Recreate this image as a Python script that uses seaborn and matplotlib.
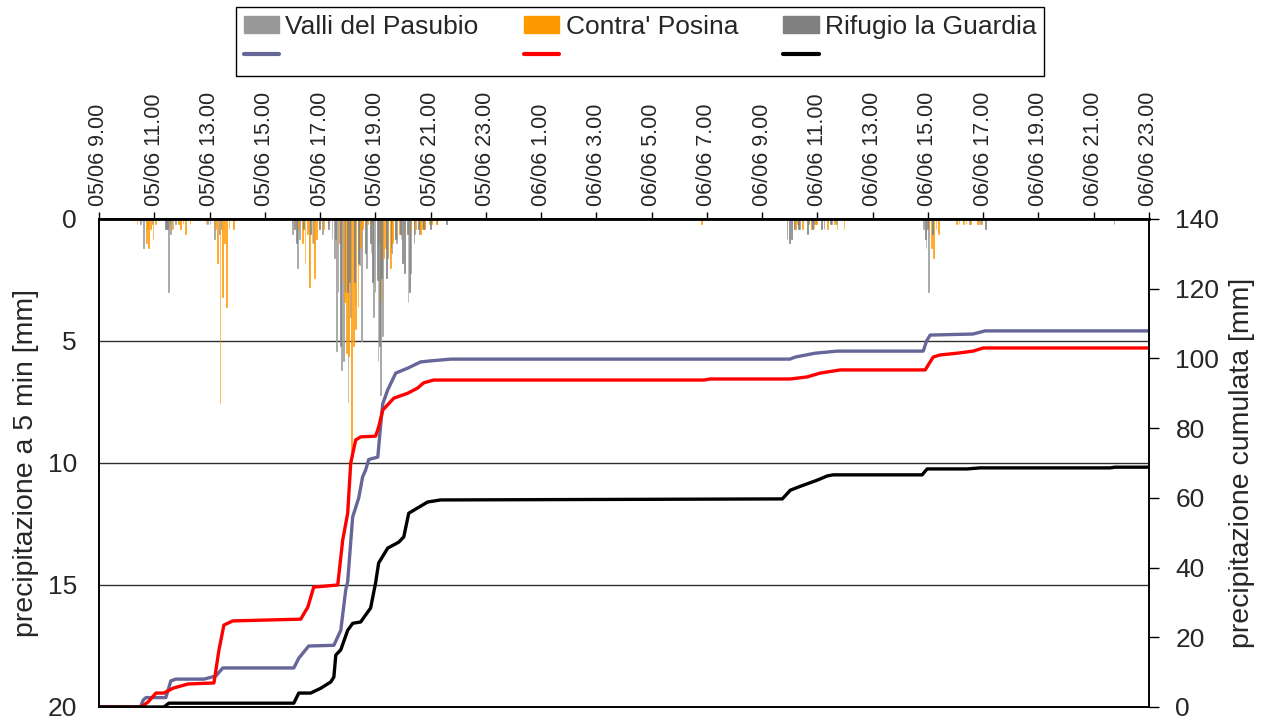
import numpy as np
import pandas as pd
import seaborn as sns
import matplotlib.pyplot as plt
from matplotlib.patches import Patch
from matplotlib.lines import Line2D

sns.set_style("white")
plt.rcParams["font.family"] = ["Liberation Sans", "DejaVu Sans"]

# ---------------------------------------------------------------------------
# Data: 5-minute rain (slot = 5-min step counted from 05/06 9.00), in mm
# ---------------------------------------------------------------------------
stations = ["Valli del Pasubio", "Contra' Posina", "Rifugio la Guardia"]

valli_slot = [18, 19, 21, 23, 29, 30, 31, 32, 33, 35, 47, 48, 50, 52, 53,
              84, 86, 87, 91, 93, 97, 101, 102, 103, 105, 106, 108, 109, 111, 113, 114, 116,
              118, 119, 121, 122, 123, 125, 127, 129, 131, 134, 135, 137, 139, 141, 144,
              302, 304, 308, 310, 311, 318, 320, 358, 359, 360, 378, 383]
valli_mm = [0.2, 1.2, 0.4, 0.2, 0.4, 3.0, 0.6, 0.4, 0.2, 0.2, 0.2, 0.2, 0.8, 0.6, 0.4,
            0.6, 2.0, 0.8, 2.2, 1.0, 0.6, 0.8, 1.6, 5.4, 6.2, 5.8, 7.5, 4.0, 3.5, 1.9, 5.0, 2.0,
            1.4, 4.0, 5.8, 7.2, 4.8, 1.6, 1.4, 1.0, 0.8, 3.4, 2.2, 0.6, 0.6, 0.2, 0.2,
            0.4, 0.4, 0.2, 0.2, 0.2, 0.2, 0.2, 0.4, 1.2, 3.0, 0.2, 0.2]

posina_slot = [16, 20, 21, 22, 23, 24, 31, 34, 35, 36, 37, 39, 46, 50, 51, 52, 53, 54, 55, 56, 58,
               86, 88, 89, 90, 91, 92, 93, 94, 95, 97, 99,
               104, 105, 106, 107, 108, 109, 110, 111, 112, 113, 114, 116, 118,
               121, 122, 123, 124, 125, 126, 127, 128, 130, 132, 135, 137, 139, 140, 141, 143, 144, 146,
               261, 302, 303, 305, 309, 310, 311, 316, 319, 320, 323,
               360, 361, 362, 363, 364, 372, 373, 375, 376, 378, 381, 382]
posina_mm = [0.2, 1.0, 1.2, 0.4, 0.8, 0.2, 0.4, 0.2, 0.4, 0.2, 0.6, 0.2, 0.2, 0.4, 1.8, 7.6, 3.2, 1.0, 3.6, 0.4, 0.4,
             0.4, 1.0, 1.8, 0.6, 2.8, 1.0, 2.4, 0.8, 0.4, 0.4, 0.2,
             1.0, 2.6, 3.4, 5.5, 5.6, 10.0, 5.2, 4.5, 3.6, 1.2, 0.4, 0.2, 0.2,
             1.0, 3.4, 1.6, 1.2, 1.4, 2.0, 1.0, 0.8, 0.6, 0.4, 0.6, 0.4, 0.6, 0.4, 0.4, 0.2, 0.2, 0.2,
             0.2, 0.4, 0.2, 0.4, 0.4, 0.4, 0.2, 0.4, 0.2, 0.4, 0.4,
             0.4, 1.2, 1.6, 0.4, 0.6, 0.2, 0.2, 0.2, 0.2, 0.2, 0.2, 0.2]

guardia_slot = [28, 29, 30, 84, 85, 88, 91, 95, 99,
                102, 103, 104, 106, 107, 108, 110, 112,
                115, 117, 118, 119, 120, 121, 122, 124, 126, 128,
                130, 131, 132, 133, 134, 136, 138, 140, 143, 146, 150,
                298, 299, 300, 301, 303, 307, 309, 313, 314, 317, 358, 359, 361, 384, 440]
guardia_mm = [0.4, 0.4, 0.2, 0.4, 1.0, 0.4, 0.6, 0.4, 0.4,
              0.8, 3.0, 5.2, 3.0, 3.0, 2.6, 2.6, 1.8,
              1.4, 1.0, 2.6, 3.0, 2.5, 5.2, 2.4, 2.4, 1.2, 0.8,
              0.6, 1.8, 2.2, 0.6, 3.0, 1.0, 0.4, 0.4, 0.4, 0.2, 0.2,
              0.8, 1.0, 0.8, 0.4, 0.4, 0.6, 0.4, 0.4, 0.4, 0.2, 0.8, 0.4, 0.6, 0.4, 0.2]

# cumulative rain: hours from 05/06 9.00 and mm
valli_cum_h = [0, 1.5, 1.6, 1.7, 2.42, 2.6, 2.78, 3.8, 4.23, 4.48, 7.05, 7.23, 7.59, 8.5, 8.75,
               8.93, 9.0, 9.18, 9.4, 9.54, 9.65, 9.76, 10.09, 10.2, 10.27, 10.45, 10.74, 11.17,
               11.64, 12.0, 12.73, 25.0, 25.2, 25.92, 26.72, 29.83, 29.95, 30.08, 31.63, 32.07, 38]
valli_cum_mm = [0, 0, 2.0, 2.7, 2.7, 7.5, 8.0, 8.0, 8.9, 11.2, 11.2, 14.0, 17.5, 17.7, 22.0,
                33.6, 36.0, 54.5, 60.0, 66.0, 68.0, 71.0, 71.7, 81.5, 87.0, 91.0, 95.8, 97.2,
                99.0, 99.3, 99.8, 99.8, 100.4, 101.5, 102.1, 102.1, 105.0, 106.7, 107.0, 107.9, 107.9]

posina_cum_h = [0, 1.52, 1.77, 2.06, 2.35, 2.68, 3.22, 4.16, 4.34, 4.52, 4.84, 7.3, 7.56, 7.77,
                8.64, 8.82, 9.0, 9.11, 9.29, 9.47, 10.01, 10.12, 10.27, 10.67, 11.17, 11.53,
                11.75, 12.11, 21.9, 22.1, 25.02, 25.63, 26.1, 26.83, 29.9, 30.19, 30.44, 31.06,
                31.63, 32.0, 38]
posina_cum_mm = [0, 0, 1.4, 4.0, 4.0, 5.4, 6.6, 6.9, 16.3, 23.5, 24.7, 25.2, 28.7, 34.4,
                 35.0, 47.9, 55.6, 70.0, 76.6, 77.5, 77.7, 80.3, 85.2, 88.6, 90.0, 91.5,
                 93.0, 93.8, 93.8, 94.1, 94.1, 94.7, 95.8, 96.7, 96.7, 100.4, 101.0, 101.5,
                 102.1, 103.0, 103.0]

guardia_cum_h = [0, 2.35, 2.53, 7.05, 7.23, 7.66, 8.03, 8.39, 8.5, 8.57, 8.75, 9.0, 9.18, 9.47,
                 9.83, 10.01, 10.12, 10.45, 10.85, 11.03, 11.21, 11.53, 11.89, 12.36, 24.73,
                 25.02, 25.31, 26.0, 26.36, 26.57, 29.79, 29.97, 31.42, 31.89, 36.59, 36.77, 38]
guardia_cum_mm = [0, 0, 1.1, 1.1, 4.0, 4.0, 5.4, 7.2, 8.6, 14.9, 16.4, 22.0, 24.0, 24.4,
                  28.4, 35.6, 41.3, 45.6, 47.3, 48.8, 55.6, 57.1, 58.8, 59.4, 59.7,
                  62.2, 63.1, 65.1, 66.3, 66.6, 66.6, 68.3, 68.3, 68.6, 68.6, 68.8, 68.8]

tick_labels = ["05/06 9.00", "05/06 11.00", "05/06 13.00", "05/06 15.00", "05/06 17.00",
               "05/06 19.00", "05/06 21.00", "05/06 23.00", "06/06 1.00", "06/06 3.00",
               "06/06 5.00", "06/06 7.00", "06/06 9.00", "06/06 11.00", "06/06 13.00",
               "06/06 15.00", "06/06 17.00", "06/06 19.00", "06/06 21.00", "06/06 23.00"]

bar_colors = {"Valli del Pasubio": "#999999", "Contra' Posina": "#FF9900", "Rifugio la Guardia": "#808080"}
line_colors = {"Valli del Pasubio": "#666699", "Contra' Posina": "#FF0000", "Rifugio la Guardia": "#000000"}

N_SLOTS = 38 * 12  # 05/06 9.00 -> 06/06 23.00

# full table of 5-min bars (zeros where no rain)
frames = []
for name, slots, mm in zip(stations, [valli_slot, posina_slot, guardia_slot],
                           [valli_mm, posina_mm, guardia_mm]):
    full = np.zeros(N_SLOTS)
    full[slots] = mm
    frames.append(pd.DataFrame({"slot": np.arange(N_SLOTS) + 0.5, "mm": full, "station": name}))
bars = pd.concat(frames, ignore_index=True)

cum = {"Valli del Pasubio": (valli_cum_h, valli_cum_mm),
       "Contra' Posina": (posina_cum_h, posina_cum_mm),
       "Rifugio la Guardia": (guardia_cum_h, guardia_cum_mm)}

# ---------------------------------------------------------------------------
# Plot
# ---------------------------------------------------------------------------
fig = plt.figure(figsize=(12.64, 7.17), dpi=100)
ax = fig.add_axes([99 / 1264, 10 / 717, 1050 / 1264, 488 / 717])

sns.barplot(data=bars, x="slot", y="mm", hue="station", hue_order=stations,
            palette=bar_colors, native_scale=True, dodge=True, width=1.0, saturation=1,
            errorbar=None, legend=False, ax=ax)
# thin bars: give them an edge of their own colour so they read as 1px lines
for p in ax.patches:
    p.set_edgecolor(p.get_facecolor())
    p.set_linewidth(0.45)

ax.set_xlim(0, N_SLOTS)
ax.set_ylim(20, 0)
ax.set_yticks([0, 5, 10, 15, 20])
ax.set_axisbelow(True)
ax.yaxis.grid(True, color="#303030", linewidth=1)
ax.xaxis.grid(False)
ax.set_xticks(np.arange(0, N_SLOTS + 1, 24))
ax.set_xticklabels(tick_labels)
ax.xaxis.tick_top()
ax.tick_params(axis="x", direction="out", length=5, width=1, color="black",
               labelrotation=90, labelsize=15.5, pad=4)
ax.tick_params(axis="y", length=0, labelsize=19, pad=16)
ax.set_xlabel("")
ax.set_ylabel("precipitazione a 5 min [mm]", fontsize=20.5, labelpad=6)

ax2 = ax.twinx()
for name in stations:
    h, v = cum[name]
    sns.lineplot(x=np.array(h) * 12, y=v, color=line_colors[name], linewidth=2.4,
                 estimator=None, sort=False, ax=ax2)
ax2.set_ylim(0, 140)
ax2.set_yticks(range(0, 141, 20))
ax2.tick_params(axis="y", direction="out", length=7, width=1, color="black",
                labelsize=19, pad=12)
ax2.set_ylabel("precipitazione cumulata [mm]", fontsize=20.5, labelpad=7)
ax2.grid(False)

for a in (ax, ax2):
    for side in ["top", "bottom", "left", "right"]:
        a.spines[side].set_color("black")
        a.spines[side].set_linewidth(1.2)
ax.spines["top"].set_linewidth(2)

handles = [Patch(color=bar_colors[stations[0]]), Line2D([], [], color=line_colors[stations[0]], lw=3),
           Patch(color=bar_colors[stations[1]]), Line2D([], [], color=line_colors[stations[1]], lw=3),
           Patch(color=bar_colors[stations[2]]), Line2D([], [], color=line_colors[stations[2]], lw=3)]
labels = [stations[0], "", stations[1], "", stations[2], ""]
leg = fig.legend(handles, labels, ncol=3, loc="upper center", bbox_to_anchor=(640 / 1264, 1 - 7 / 717),
                 borderaxespad=0, fontsize=19, frameon=True, fancybox=False, edgecolor="black",
                 framealpha=1, handlelength=1.36, handleheight=0.65, handletextpad=0.23,
                 columnspacing=1.7, labelspacing=0.2, borderpad=0.3)
leg.get_frame().set_linewidth(1)

fig.savefig("out.png", dpi=100)
